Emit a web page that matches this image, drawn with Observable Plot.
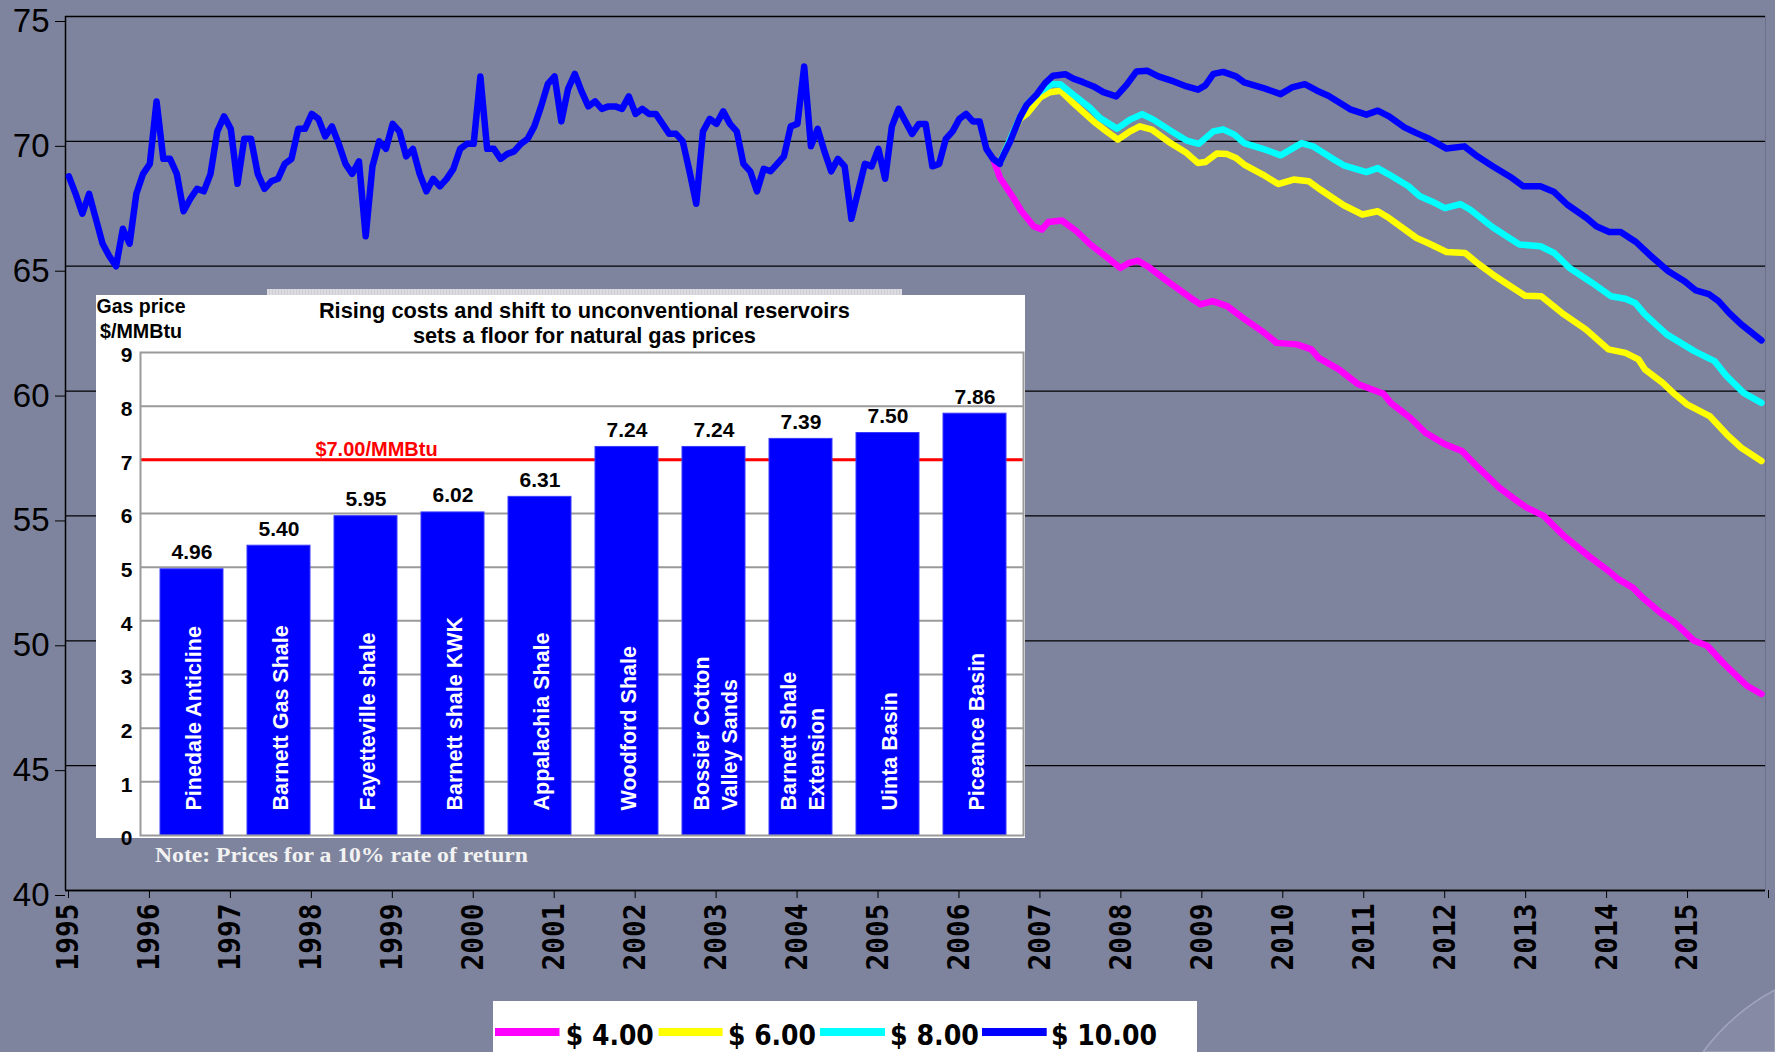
<!DOCTYPE html>
<html><head><meta charset="utf-8">
<script src="https://cdn.jsdelivr.net/npm/d3@7"></script>
<script src="https://cdn.jsdelivr.net/npm/@observablehq/plot@0.6"></script>
<style>
html,body{margin:0;padding:0;}
body{width:1775px;height:1052px;overflow:hidden;background:#7f849e;position:relative;font-family:"Liberation Sans",Arial,sans-serif;}
#main{position:absolute;left:0;top:0;}
#band{position:absolute;left:267px;top:289px;width:635px;height:6px;background:repeating-linear-gradient(90deg,#dcdce0 0 2px,#cdced5 2px 3px);}
#inset{position:absolute;left:96px;top:295px;}
#overlay{position:absolute;left:0;top:0;pointer-events:none;}
</style></head><body>
<div id="main"></div><div id="band"></div><div id="inset"></div>
<svg id="overlay" width="1775" height="1052" font-family="Liberation Sans, Arial, sans-serif">
  <path d="M1703,1052 A216,216 0 0 1 1775,990 L1775,1052 Z" fill="#868aa5" stroke="#a2a6bc" stroke-width="1.5"/>
  <text x="584.4" y="318.3" text-anchor="middle" font-size="21.5" font-weight="bold" fill="#000" textLength="531" lengthAdjust="spacingAndGlyphs">Rising costs and shift to unconventional reservoirs</text>
  <text x="584.4" y="343.3" text-anchor="middle" font-size="21.5" font-weight="bold" fill="#000" textLength="343" lengthAdjust="spacingAndGlyphs">sets a floor for natural gas prices</text>
  <text x="141" y="313" text-anchor="middle" font-size="19.5" font-weight="bold" fill="#000" textLength="89" lengthAdjust="spacingAndGlyphs">Gas price</text>
  <text x="141" y="338" text-anchor="middle" font-size="19.5" font-weight="bold" fill="#000" textLength="82" lengthAdjust="spacingAndGlyphs">$/MMBtu</text>
  <text x="155" y="861.7" font-family="Liberation Serif, serif" font-size="20" font-weight="bold" fill="#f2f2f2" textLength="373" lengthAdjust="spacingAndGlyphs">Note: Prices for a 10% rate of return</text>
  <rect x="493" y="1001" width="704" height="60" fill="#ffffff"/>
  <rect x="495" y="1028" width="64.5" height="8" fill="#ff00ff"/>
  <rect x="658.6" y="1028" width="64" height="8" fill="#ffff00"/>
  <rect x="820" y="1028" width="65" height="8" fill="#00ffff"/>
  <rect x="982" y="1028" width="64.7" height="8" fill="#0000ff"/>
  <g font-family="DejaVu Sans, sans-serif" font-stretch="condensed" font-weight="bold" font-size="28" fill="#000">
    <text x="565.8" y="1045" textLength="88" lengthAdjust="spacingAndGlyphs">$ 4.00</text>
    <text x="728" y="1045" textLength="88" lengthAdjust="spacingAndGlyphs">$ 6.00</text>
    <text x="890" y="1045" textLength="89" lengthAdjust="spacingAndGlyphs">$ 8.00</text>
    <text x="1051" y="1045" textLength="106" lengthAdjust="spacingAndGlyphs">$ 10.00</text>
  </g>
</svg>
<script>
// ---------- main chart data ----------
const years = d3.range(1995, 2017);
const yTicks = [40, 45, 50, 55, 60, 65, 70, 75];
const histStart = 1995; // monthly values from Jan 1995
const histValues = [68.6,67.9,67.1,67.9,66.9,65.9,65.4,65.0,66.5,65.9,67.9,68.7,
69.1,71.6,69.3,69.3,68.7,67.2,67.7,68.1,68.0,68.7,70.4,71.0,
70.5,68.3,70.1,70.1,68.7,68.1,68.4,68.5,69.1,69.3,70.5,70.5,
71.1,70.9,70.2,70.6,69.9,69.1,68.7,69.2,66.2,69.0,70.0,69.7,
70.7,70.4,69.4,69.7,68.7,68.0,68.5,68.2,68.5,68.9,69.7,69.9,
69.9,72.6,69.7,69.7,69.3,69.5,69.6,69.9,70.1,70.6,71.4,72.3,
72.6,70.8,72.1,72.7,72.0,71.4,71.6,71.3,71.4,71.4,71.3,71.8,
71.1,71.3,71.1,71.1,70.7,70.3,70.3,70.0,68.8,67.5,70.4,70.9,
70.7,71.2,70.7,70.4,69.1,68.8,68.0,68.9,68.8,69.1,69.4,70.6,
70.7,73.0,69.8,70.5,69.6,68.8,69.3,69.0,66.9,68.0,69.1,69.0,
69.7,68.5,70.6,71.3,70.8,70.3,70.7,70.7,69.0,69.1,70.1,70.4,
70.9,71.1,70.8,70.8,69.7,69.3,69.1];

const p10Years = [2006.54,2006.67,2006.79,2006.875,2007.0,2007.1,2007.2,2007.35,2007.45,2007.57,2007.7,2007.82,2007.98,2008.11,2008.23,2008.36,2008.5,2008.69,2008.85,2008.99,2009.08,2009.18,2009.3,2009.46,2009.56,2009.82,2010.01,2010.15,2010.31,2010.46,2010.6,2010.88,2011.07,2011.21,2011.35,2011.54,2011.69,2011.83,2012.06,2012.28,2012.44,2012.63,2012.87,2013.01,2013.22,2013.39,2013.55,2013.79,2013.91,2014.07,2014.21,2014.4,2014.57,2014.8,2015.0,2015.14,2015.3,2015.42,2015.55,2015.7,2015.95];
const p10Values = [69.13,70.0,70.96,71.47,71.89,72.33,72.63,72.69,72.51,72.37,72.2,71.97,71.8,72.27,72.8,72.83,72.6,72.4,72.2,72.07,72.24,72.7,72.78,72.6,72.36,72.11,71.89,72.16,72.29,72.03,71.83,71.27,71.07,71.23,71.0,70.56,70.33,70.13,69.71,69.8,69.4,69.0,68.53,68.2,68.2,67.97,67.47,66.93,66.6,66.37,66.37,65.97,65.45,64.8,64.4,64.03,63.88,63.6,63.13,62.67,62.03];

const p8Years = [2006.54,2006.79,2006.875,2007.04,2007.18,2007.29,2007.45,2007.66,2007.78,2007.99,2008.15,2008.3,2008.44,2008.65,2008.85,2009.0,2009.18,2009.3,2009.44,2009.56,2009.82,2010.01,2010.27,2010.41,2010.65,2010.79,2011.07,2011.21,2011.35,2011.59,2011.73,2011.92,2012.04,2012.23,2012.35,2012.63,2012.96,2013.22,2013.39,2013.58,2013.86,2014.09,2014.27,2014.39,2014.51,2014.78,2015.12,2015.37,2015.52,2015.73,2015.95];
const p8Values = [69.13,70.96,71.47,72.0,72.29,72.29,71.87,71.33,70.93,70.51,70.87,71.09,70.87,70.43,70.03,69.9,70.4,70.48,70.27,69.93,69.67,69.44,69.93,69.8,69.31,69.04,68.77,68.93,68.67,68.2,67.8,67.53,67.33,67.49,67.27,66.56,65.87,65.8,65.53,64.93,64.33,63.8,63.7,63.53,63.07,62.27,61.6,61.2,60.6,59.93,59.53];

const p6Years = [2006.54,2006.79,2006.875,2007.04,2007.16,2007.29,2007.45,2007.7,2007.86,2008.0,2008.15,2008.27,2008.42,2008.65,2008.85,2008.99,2009.08,2009.22,2009.35,2009.46,2009.56,2009.79,2009.98,2010.17,2010.36,2010.5,2010.79,2011.02,2011.21,2011.35,2011.69,2011.83,2012.06,2012.29,2012.45,2012.63,2012.85,2013.03,2013.23,2013.51,2013.78,2014.06,2014.27,2014.43,2014.51,2014.73,2014.88,2015.03,2015.31,2015.52,2015.7,2015.95];
const p6Values = [69.13,70.9,71.1,71.76,71.97,72.03,71.53,70.8,70.4,70.07,70.4,70.6,70.47,69.93,69.53,69.13,69.17,69.51,69.49,69.33,69.07,68.67,68.29,68.47,68.4,68.07,67.44,67.07,67.2,66.93,66.13,65.93,65.57,65.53,65.1,64.67,64.2,63.82,63.8,63.07,62.47,61.67,61.53,61.27,60.87,60.33,59.87,59.47,59.0,58.27,57.73,57.2];

const p4Years = [2006.46,2006.545,2006.71,2006.81,2006.96,2007.06,2007.14,2007.31,2007.49,2007.66,2007.82,2008.03,2008.13,2008.25,2008.38,2008.61,2008.9,2009.02,2009.17,2009.35,2009.57,2009.81,2009.96,2010.21,2010.39,2010.48,2010.73,2010.97,2011.28,2011.37,2011.61,2011.8,2012.04,2012.25,2012.41,2012.71,2012.93,2013.05,2013.26,2013.51,2013.84,2014.06,2014.18,2014.36,2014.48,2014.7,2014.88,2015.12,2015.28,2015.49,2015.77,2015.95];
const p4Values = [69.3,68.53,67.73,67.2,66.6,66.47,66.77,66.83,66.4,65.87,65.47,64.93,65.12,65.22,64.97,64.4,63.73,63.47,63.6,63.4,62.87,62.33,61.93,61.87,61.67,61.33,60.87,60.27,59.89,59.53,58.93,58.33,57.87,57.6,57.07,56.13,55.6,55.33,55.0,54.2,53.33,52.8,52.47,52.13,51.73,51.13,50.73,50.0,49.8,49.07,48.2,47.87];

// ---------- inset data ----------
const basins = ["Pinedale Anticline","Barnett Gas Shale","Fayetteville shale","Barnett shale KWK","Appalachia Shale","Woodford Shale","Bossier Cotton\nValley Sands","Barnett Shale\nExtension","Uinta Basin","Piceance Basin"];
const basinPrices = [4.96,5.40,5.95,6.02,6.31,7.24,7.24,7.39,7.50,7.86];
const insetTicks = [0,1,2,3,4,5,6,7,8,9];
const floorPrice = 7;

// ---------- build ----------
const zip = (ts, vs) => ts.map((t, i) => ({t, v: vs[i]}));
const hist = histValues.map((v, i) => ({t: histStart + (i + 0.5) / 12, v}));
const lineOpts = (color) => ({x: "t", y: "v", stroke: color, strokeWidth: 6.5, strokeLinejoin: "round", strokeLinecap: "round"});

const main = Plot.plot({
  width: 1775, height: 1000,
  marginLeft: 65, marginRight: 10, marginTop: 16, marginBottom: 110,
  style: {background: "transparent", overflow: "visible", color: "#000", fontFamily: "Liberation Sans, Arial, sans-serif"},
  x: {domain: [1995, 2016]},
  y: {domain: [40, 75]},
  marks: [
    Plot.gridY({ticks: yTicks, stroke: "#000", strokeOpacity: 1, strokeWidth: 1.3}),
    Plot.ruleX([2016], {stroke: "#6c708c", strokeWidth: 1}),
    Plot.ruleX([1995], {stroke: "#000", strokeWidth: 1.5}),
    Plot.ruleY([40], {stroke: "#000", strokeWidth: 1.5}),
    Plot.axisY({ticks: yTicks, tickSize: 10, tickPadding: 6, fontSize: 33, dy: 5, label: null, stroke: "#000"}),
    Plot.axisX({ticks: years, tickSize: 8, tickPadding: 5, tickRotate: -90, dx: 3,
      tickFormat: d => d < 2016 ? String(d) : "", fontSize: 31, fontFamily: "DejaVu Sans Mono, monospace", fontWeight: "bold", label: null, stroke: "#000"}),
    Plot.line(zip(p4Years, p4Values), lineOpts("#ff00ff")),
    Plot.line(zip(p6Years, p6Values), lineOpts("#ffff00")),
    Plot.line(zip(p8Years, p8Values), lineOpts("#00ffff")),
    Plot.line(zip(p10Years, p10Values), lineOpts("#0000ff")),
    Plot.line(hist, lineOpts("#0000ff"))
  ]
});
document.getElementById("main").appendChild(main);
d3.select(main).selectAll('g[aria-label="x-axis tick label"] text').each(function() {
  if (this.textContent.trim().length) {
    this.setAttribute("textLength", 67);
    this.setAttribute("lengthAdjust", "spacingAndGlyphs");
  }
});

const basinData = basins.map((name, i) => ({name, price: basinPrices[i]}));
const inset = Plot.plot({
  width: 929, height: 543,
  marginLeft: 44, marginRight: 2, marginTop: 57, marginBottom: 3,
  style: {background: "#ffffff", overflow: "visible", color: "#000", fontFamily: "Liberation Sans, Arial, sans-serif"},
  x: {domain: basins, range: [52, 922], paddingInner: 0.28, paddingOuter: 0.14, axis: null},
  y: {domain: [0, 9], range: [540, 57]},
  marks: [
    Plot.ruleY(insetTicks.filter(d => d > 0 && d < 9), {stroke: "#9a9a9a", strokeWidth: 2}),
    Plot.ruleY([floorPrice], {stroke: "#ff0000", strokeWidth: 3}),
    Plot.barY(basinData, {x: "name", y: "price", fill: "#0000ff", stroke: "#3b3bff", strokeWidth: 1}),
    Plot.frame({stroke: "#9a9a9a", strokeWidth: 2}),
    Plot.axisY({ticks: insetTicks, tickSize: 0, tickPadding: 8, fontSize: 21, fontWeight: "bold", dy: 3, label: null}),
    Plot.text(basinData, {x: "name", y: "price", text: d => d.price.toFixed(2), dy: -10, lineAnchor: "bottom", fontSize: 21, fontWeight: "bold", fill: "#000"}),
    Plot.text(basinData, {x: "name", y: () => 0, text: "name", rotate: -90, textAnchor: "start", dy: -25, lineHeight: 1.28, fontSize: 21.5, fontWeight: "bold", fill: "#ffffff"}),
    Plot.text([floorPrice], {y: d => d, text: () => "$7.00/MMBtu", frameAnchor: "left", dx: 236, dy: -4, lineAnchor: "bottom", textAnchor: "middle", fontSize: 20, fontWeight: "bold", fill: "#ff0000"})
  ]
});
document.getElementById("inset").appendChild(inset);
</script>
</body></html>
